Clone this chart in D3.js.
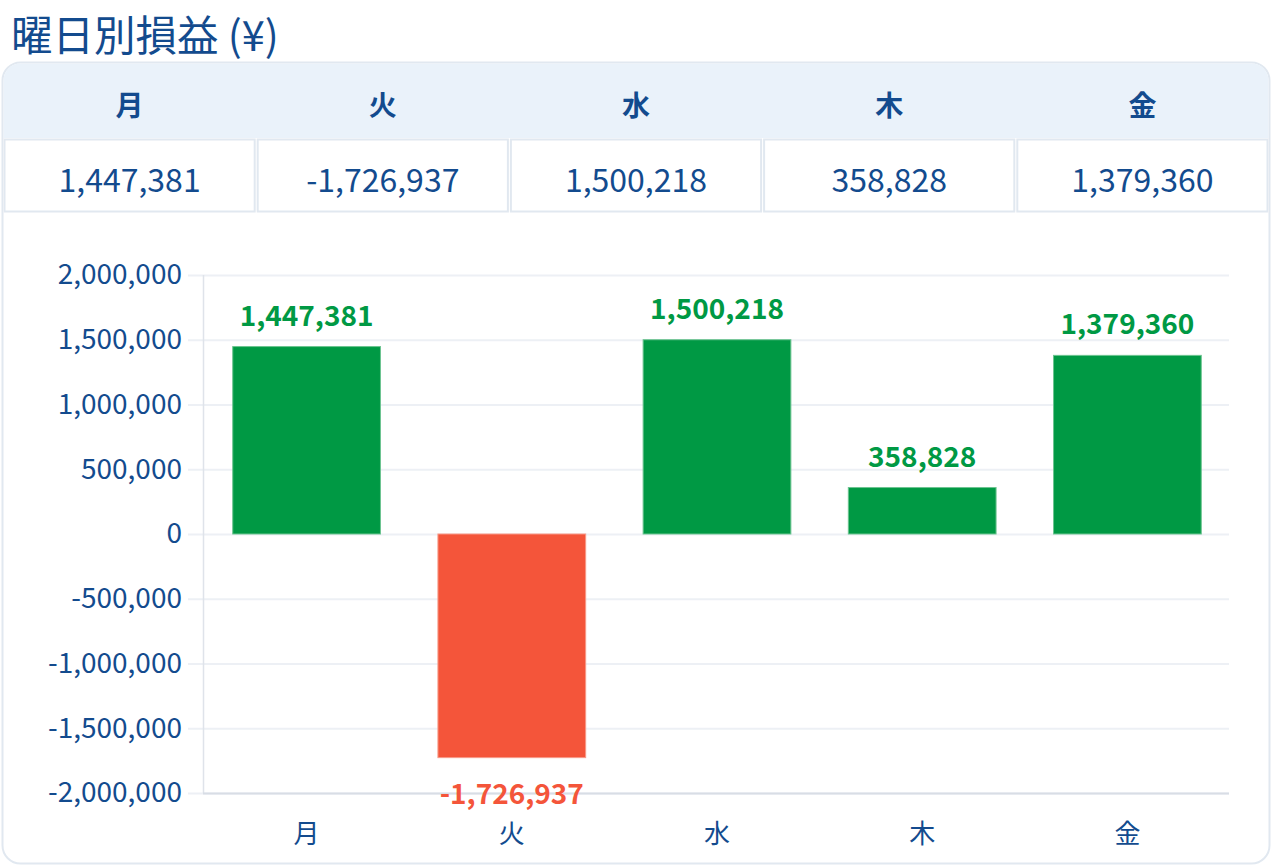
<!DOCTYPE html>
<html>
<head>
<meta charset="utf-8">
<script src="https://cdn.jsdelivr.net/npm/d3@7"></script>
<style>
  body { margin: 0; background: #fff; font-family: "Noto Sans CJK JP", "Noto Sans", sans-serif; }
  svg { display: block; }
</style>
</head>
<body>
<svg id="chart" width="1272" height="866"></svg>
<script>
var days = ["月", "火", "水", "木", "金"];
var profits = [1447381, -1726937, 1500218, 358828, 1379360];
var yTicks = [2000000, 1500000, 1000000, 500000, 0, -500000, -1000000, -1500000, -2000000];

var textBlue = "#134b8e";
var green = "#009944";
var red = "#f4553a";
// plain hyphen for negatives, like the original
var fmt = d3.formatLocale({ decimal: ".", thousands: ",", grouping: [3], currency: ["", ""], minus: "-" }).format(",");

var svg = d3.select("#chart");

// title
svg.append("text")
    .attr("x", 11).attr("y", 51)
    .attr("fill", textBlue)
    .style("font-size", "41.5px")
    .text("曜日別損益 (¥)");

// card
svg.append("rect")
    .attr("x", 2.5).attr("y", 62.5)
    .attr("width", 1267).attr("height", 801)
    .attr("rx", 18)
    .attr("fill", "#fff")
    .attr("stroke", "#e1e8f0")
    .attr("stroke-width", 2);

svg.append("clipPath").attr("id", "cardClip")
  .append("rect")
    .attr("x", 3.5).attr("y", 63.5)
    .attr("width", 1265).attr("height", 799)
    .attr("rx", 17);

var table = svg.append("g").attr("clip-path", "url(#cardClip)");
table.append("rect")
    .attr("x", 0).attr("y", 62)
    .attr("width", 1272).attr("height", 76)
    .attr("fill", "#eaf2fa");

var cellX = d3.scaleBand().domain(days).range([3, 1269]);

table.selectAll(".hdr")
    .data(days)
    .join("text")
    .attr("class", "hdr")
    .attr("x", d => cellX(d) + cellX.bandwidth() / 2)
    .attr("y", 116)
    .attr("text-anchor", "middle")
    .attr("fill", textBlue)
    .style("font-size", "28px")
    .style("font-weight", "bold")
    .text(d => d);

table.selectAll(".cell")
    .data(days)
    .join("rect")
    .attr("class", "cell")
    .attr("x", d => cellX(d) + 1.5)
    .attr("y", 139.5)
    .attr("width", cellX.bandwidth() - 3)
    .attr("height", 72)
    .attr("fill", "#fff")
    .attr("stroke", "#e1e8f0")
    .attr("stroke-width", 2);

table.selectAll(".val")
    .data(days)
    .join("text")
    .attr("class", "val")
    .attr("x", d => cellX(d) + cellX.bandwidth() / 2)
    .attr("y", 192)
    .attr("text-anchor", "middle")
    .attr("fill", textBlue)
    .style("font-size", "32px")
    .text((d, i) => fmt(profits[i]));

// chart
var x = d3.scaleBand().domain(days).range([204, 1230]).paddingInner(0.28).paddingOuter(0.14);
var y = d3.scaleLinear().domain([-2000000, 2000000]).range([793, 275]);

svg.append("g")
    .selectAll("line")
    .data(yTicks)
    .join("line")
    .attr("x1", 188).attr("x2", 1229)
    .attr("y1", d => y(d) + 0.5).attr("y2", d => y(d) + 0.5)
    .attr("stroke", "#edf0f5")
    .attr("stroke-width", 2);

svg.append("line")
    .attr("x1", 203.5).attr("x2", 203.5)
    .attr("y1", 275).attr("y2", 793)
    .attr("stroke", "#dfe3ea").attr("stroke-width", 1.5);

svg.append("line")
    .attr("x1", 203).attr("x2", 1229)
    .attr("y1", 793.5).attr("y2", 793.5)
    .attr("stroke", "#d8dde5").attr("stroke-width", 2);

var yAxis = svg.append("g")
    .attr("transform", "translate(182,0)")
    .call(d3.axisLeft(y).tickValues(yTicks).tickFormat(fmt).tickSize(0).tickPadding(0));
yAxis.select(".domain").remove();
yAxis.selectAll("text")
    .attr("fill", textBlue)
    .style("font-family", "'Noto Sans CJK JP', sans-serif")
    .style("font-size", "28px");

var xAxis = svg.append("g")
    .attr("transform", "translate(0,825)")
    .call(d3.axisBottom(x).tickSize(0).tickPadding(0));
xAxis.select(".domain").remove();
xAxis.selectAll("text")
    .attr("fill", textBlue)
    .attr("dy", "0.71em")
    .style("font-family", "'Noto Sans CJK JP', sans-serif")
    .style("font-size", "26px");

var data = days.map((d, i) => ({ day: d, value: profits[i] }));

svg.selectAll(".bar")
    .data(data)
    .join("rect")
    .attr("class", "bar")
    .attr("x", d => x(d.day))
    .attr("y", d => y(Math.max(0, d.value)))
    .attr("width", x.bandwidth())
    .attr("height", d => Math.abs(y(d.value) - y(0)))
    .attr("fill", d => d.value >= 0 ? green : red)
    .attr("stroke", d => d.value >= 0 ? "#6cc490" : "#f79a88")
    .attr("stroke-width", 1);

svg.selectAll(".barLabel")
    .data(data)
    .join("text")
    .attr("class", "barLabel")
    .attr("x", d => x(d.day) + x.bandwidth() / 2)
    .attr("y", d => d.value >= 0 ? y(d.value) - 21 : y(d.value) + 46)
    .attr("text-anchor", "middle")
    .attr("fill", d => d.value >= 0 ? green : red)
    .style("font-size", "28px")
    .style("font-weight", "bold")
    .text(d => fmt(d.value));
</script>
</body>
</html>
